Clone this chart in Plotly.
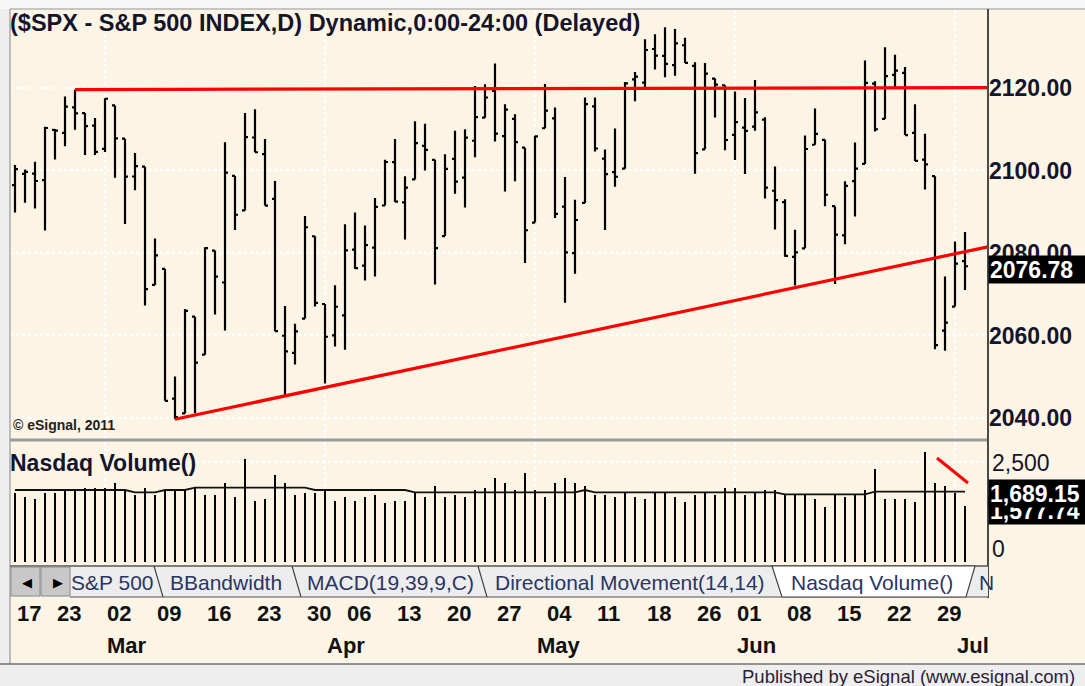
import plotly.graph_objects as go

W, H = 1085, 686
CREAM = "#FCF5E6"
FONT = "Liberation Sans, Arial, sans-serif"

# trading-day index 0 = 17 Feb 2015 ... 95 = 02 Jul 2015
day_idx = list(range(96))

opens = [
    2096.47, 2099.16, 2099.25, 2097.65, 2109.83, 2109.10, 2115.30, 2113.91, 2110.88, 2105.23,
    2115.76, 2107.72, 2098.54, 2100.91, 2072.25, 2076.14, 2044.69, 2041.10, 2064.56, 2055.35,
    2080.59, 2072.84, 2098.69, 2090.32, 2107.99, 2103.94, 2093.10, 2059.94, 2055.78, 2064.11,
    2084.05, 2067.63, 2060.03, 2064.87, 2080.79, 2076.94, 2081.29, 2091.51, 2102.03, 2092.28,
    2097.82, 2105.96, 2102.58, 2084.11, 2102.82, 2098.27, 2107.21, 2112.80, 2119.29, 2108.35,
    2112.49, 2105.52, 2087.38, 2110.23, 2112.63, 2091.26, 2079.96, 2092.13, 2115.56, 2102.87,
    2099.62, 2100.43, 2122.07, 2121.30, 2129.45, 2127.79, 2125.55, 2130.36, 2125.34, 2105.13,
    2122.27, 2120.66, 2108.64, 2110.41, 2110.64, 2112.35, 2095.09, 2092.34, 2079.07, 2081.12,
    2106.24, 2107.43, 2091.34, 2084.26, 2097.40, 2101.58, 2121.06, 2112.50, 2123.16, 2123.65,
    2109.10, 2102.62, 2098.63, 2061.19, 2067.00, 2078.03,
]
highs = [
    2101.30, 2100.23, 2102.13, 2110.61, 2110.05, 2117.94, 2119.59, 2113.91, 2112.74, 2117.52,
    2115.76, 2107.72, 2104.25, 2100.91, 2083.49, 2076.14, 2050.08, 2066.41, 2064.56, 2081.41,
    2080.59, 2106.85, 2098.69, 2113.92, 2114.86, 2107.63, 2097.43, 2067.15, 2062.83, 2088.97,
    2084.05, 2067.63, 2072.17, 2086.99, 2089.81, 2086.69, 2093.31, 2102.61, 2107.65, 2098.62,
    2111.91, 2111.30, 2102.58, 2103.94, 2109.64, 2109.98, 2120.49, 2120.92, 2125.92, 2116.04,
    2113.65, 2105.52, 2108.41, 2120.95, 2115.24, 2098.42, 2092.90, 2117.66, 2117.69, 2105.06,
    2110.19, 2121.45, 2123.89, 2131.78, 2133.02, 2134.72, 2134.28, 2132.15, 2126.22, 2126.06,
    2122.27, 2120.66, 2119.15, 2117.59, 2121.92, 2112.89, 2100.99, 2093.01, 2085.62, 2108.50,
    2115.02, 2107.43, 2091.34, 2097.40, 2106.79, 2126.65, 2121.64, 2129.87, 2128.03, 2125.10,
    2116.04, 2108.92, 2098.63, 2074.28, 2082.78, 2085.06,
]
lows = [
    2089.80, 2092.15, 2090.79, 2085.44, 2102.68, 2105.87, 2109.89, 2103.76, 2103.75, 2104.50,
    2098.26, 2087.00, 2095.22, 2067.27, 2072.21, 2044.16, 2039.69, 2041.10, 2041.17, 2055.35,
    2065.08, 2061.23, 2085.56, 2090.32, 2104.42, 2091.50, 2061.05, 2045.50, 2052.96, 2064.11,
    2067.04, 2048.38, 2057.32, 2056.52, 2076.10, 2073.30, 2074.29, 2091.51, 2092.33, 2083.24,
    2097.82, 2100.02, 2072.37, 2084.11, 2094.38, 2091.05, 2103.19, 2112.80, 2107.04, 2094.89,
    2097.41, 2077.59, 2087.38, 2110.23, 2088.46, 2067.93, 2074.99, 2092.13, 2104.58, 2085.57,
    2096.04, 2100.43, 2116.81, 2120.01, 2124.50, 2122.59, 2122.95, 2126.06, 2099.18, 2105.13,
    2112.86, 2104.89, 2102.54, 2099.14, 2109.61, 2093.23, 2085.67, 2079.11, 2072.14, 2081.12,
    2106.24, 2091.33, 2072.49, 2082.10, 2088.86, 2101.58, 2109.45, 2112.50, 2119.89, 2108.58,
    2102.31, 2095.38, 2056.64, 2056.32, 2067.00, 2071.02,
]
closes = [
    2100.34, 2099.68, 2097.45, 2110.30, 2109.66, 2115.48, 2113.86, 2110.74, 2104.50, 2117.39,
    2107.78, 2098.53, 2101.04, 2071.26, 2079.43, 2044.16, 2040.24, 2065.95, 2053.40, 2081.19,
    2074.28, 2099.50, 2089.27, 2108.10, 2104.42, 2091.50, 2061.05, 2056.15, 2061.02, 2086.24,
    2067.89, 2059.69, 2066.96, 2080.62, 2076.33, 2081.90, 2091.18, 2102.06, 2092.43, 2095.84,
    2106.63, 2104.99, 2081.18, 2100.40, 2097.29, 2107.96, 2112.93, 2117.69, 2108.92, 2114.76,
    2106.85, 2085.51, 2108.29, 2114.49, 2089.46, 2080.15, 2088.00, 2116.10, 2105.33, 2099.12,
    2098.48, 2121.10, 2122.73, 2129.20, 2127.83, 2125.85, 2130.82, 2126.06, 2104.20, 2123.48,
    2120.79, 2107.39, 2111.73, 2109.60, 2114.07, 2095.84, 2092.83, 2079.28, 2080.15, 2105.20,
    2108.86, 2094.11, 2084.43, 2096.29, 2100.44, 2121.24, 2109.99, 2122.85, 2124.20, 2108.58,
    2102.31, 2101.49, 2057.64, 2063.11, 2077.42, 2076.78,
]

volumes = [
    1717, 1617, 1567, 1717, 1717, 1783, 1783, 1858, 1858, 1858,
    1967, 1783, 1675, 1858, 1675, 1783, 1783, 1783, 1858, 1675,
    1675, 1967, 1617, 2567, 1525, 1567, 2175, 1967, 1675, 1717,
    1717, 1783, 1525, 1617, 1525, 1617, 1675, 1467, 1525, 1525,
    1717, 1617, 1908, 1617, 1675, 1617, 1800, 1858, 2108, 1967,
    1800, 2217, 1800, 1617, 1967, 2108, 1967, 1908, 1675, 1675,
    1617, 1733, 1617, 1567, 1733, 1733, 1617, 1508, 1675, 1733,
    1675, 1858, 1858, 1675, 1733, 1800, 1800, 1700, 1700, 1700,
    1567, 1367, 1700, 1617, 1700, 1800, 2317, 1567, 1567, 1567,
    1508, 2758, 1967, 1908, 1733, 1408,
]
volume_avg = [
    1800, 1800, 1800, 1800, 1800, 1800, 1800, 1800, 1800, 1800,
    1800, 1800, 1742, 1742, 1742, 1800, 1800, 1800, 1858, 1858,
    1858, 1858, 1858, 1858, 1858, 1858, 1858, 1858, 1858, 1858,
    1800, 1800, 1800, 1800, 1800, 1800, 1800, 1800, 1800, 1800,
    1742, 1742, 1742, 1742, 1742, 1742, 1742, 1742, 1742, 1742,
    1742, 1742, 1742, 1742, 1742, 1742, 1742, 1800, 1742, 1742,
    1742, 1742, 1742, 1742, 1742, 1742, 1742, 1742, 1742, 1742,
    1742, 1742, 1742, 1742, 1742, 1742, 1742, 1692, 1692, 1692,
    1692, 1692, 1692, 1692, 1692, 1692, 1758, 1758, 1758, 1758,
    1758, 1758, 1758, 1758, 1758, 1758,
]

# hand-drawn trendlines (index, value)
resist_x, resist_y = [6, 97.3], [2119.6, 2120.1]
support_x, support_y = [16, 97.3], [2039.69, 2081.5]
vol_trend_x, vol_trend_y = [92.2, 95.3], [2600, 1975]

price_ticks = [2040, 2060, 2080, 2100, 2120]
price_ticktext = ["2040.00", "2060.00", "2080.00", "2100.00", "2120.00"]
month_start_idx = [9, 31, 52, 72, 94]

date_labels = ["17", "23", "02", "09", "16", "23", "30", "06", "13", "20",
               "27", "04", "11", "18", "26", "01", "08", "15", "22", "29"]
date_idx = [0, 4, 9, 14, 19, 24, 29, 33, 38, 43, 48, 53, 58, 63, 68, 72, 77, 82, 87, 92]
month_labels = ["Mar", "Apr", "May", "Jun", "Jul"]
month_idx = [9, 31, 52, 72, 94]

tab_labels = ["S&P 500", "BBandwidth", "MACD(19,39,9,C)", "Directional Movement(14,14)",
              "Nasdaq Volume()", "N"]
tab_left_px = [69, 168, 305, 493, 789, 977]


def fx(px):
    return px / W


def fy(py):
    return 1 - py / H


fig = go.Figure()

fig.add_trace(go.Ohlc(
    x=day_idx, open=opens, high=highs, low=lows, close=closes,
    increasing=dict(line=dict(color="black", width=2.2)),
    decreasing=dict(line=dict(color="black", width=2.2)),
    tickwidth=0.3, hoverinfo="skip", showlegend=False,
    xaxis="x", yaxis="y",
))
for xs, ys in [(resist_x, resist_y), (support_x, support_y)]:
    fig.add_trace(go.Scatter(x=xs, y=ys, mode="lines", line=dict(color="#FF0000", width=3.2),
                             hoverinfo="skip", showlegend=False, xaxis="x", yaxis="y"))

fig.add_trace(go.Bar(x=day_idx, y=volumes, width=0.2, marker=dict(color="black", line=dict(width=0)),
                     hoverinfo="skip", showlegend=False, xaxis="x2", yaxis="y2"))
fig.add_trace(go.Scatter(x=day_idx, y=volume_avg, mode="lines", line=dict(color="#111111", width=1.8),
                         hoverinfo="skip", showlegend=False, xaxis="x2", yaxis="y2"))
fig.add_trace(go.Scatter(x=vol_trend_x, y=vol_trend_y, mode="lines", line=dict(color="#FF0000", width=3),
                         hoverinfo="skip", showlegend=False, xaxis="x2", yaxis="y2"))

x_range = [-0.5, 97.3]
x_dom = [fx(10), fx(988)]
grid = dict(showgrid=True, gridcolor="#FFFFFF", gridwidth=1.5, griddash="dot", zeroline=False)


def hline(y, x0, x1, color, width):
    return dict(type="line", xref="paper", yref="paper", x0=fx(x0), x1=fx(x1), y0=fy(y), y1=fy(y),
                line=dict(color=color, width=width))


def vline(x, y0, y1, color, width):
    return dict(type="line", xref="paper", yref="paper", x0=fx(x), x1=fx(x), y0=fy(y0), y1=fy(y1),
                line=dict(color=color, width=width))


def rect(x0, y0, x1, y1, fill, line_color=None, layer="above"):
    return dict(type="rect", xref="paper", yref="paper", x0=fx(x0), x1=fx(x1), y0=fy(y1), y1=fy(y0),
                fillcolor=fill, layer=layer,
                line=dict(color=line_color or fill, width=1 if line_color else 0))


shapes = [
    rect(0, 0, W, 9, "#F7F7F7", layer="below"),
    rect(10, 9, W, 664, CREAM, layer="below"),
    vline(10, 9, 664, "#A9A9A9", 1.5),
    hline(9, 10, W, "#B5B5B5", 1.5),
    hline(664, 0, W, "#707070", 1.5),
    hline(440, 10, 988, "#9B9B9B", 3),
    vline(988, 9, 598, "#4A4A4A", 2),
    # tab strip
    rect(11, 566, 988, 597, "#EDEDED"),
    hline(566, 10, 988, "#555555", 1.5),
    hline(597, 70, 988, "#555555", 1.2),
    rect(11, 567, 40, 596, "#C8C8C8", "#8A8A8A"),
    rect(41, 567, 70, 596, "#C8C8C8", "#8A8A8A"),
    dict(type="path", xref="paper", yref="paper",
         path=(f"M {fx(772)},{fy(566)} L {fx(782)},{fy(597)} L {fx(966)},{fy(597)} "
               f"L {fx(975)},{fy(566)} Z"),
         fillcolor="#FFFFFF", line=dict(color="#444444", width=1.2)),
]
for sx in [154, 292, 478]:
    shapes.append(dict(type="line", xref="paper", yref="paper", x0=fx(sx), x1=fx(sx + 9),
                       y0=fy(566), y1=fy(597), line=dict(color="#444444", width=1.2)))

annotations = [
    dict(text="($SPX - S&P 500 INDEX,D) Dynamic,0:00-24:00 (Delayed)", x=fx(8), y=fy(23),
         font=dict(size=23.5, color="#14142B", family=FONT, weight="bold")),
    dict(text="© eSignal, 2011", x=fx(11), y=fy(425),
         font=dict(size=14, color="#222222", family=FONT, weight="bold")),
    dict(text="Nasdaq Volume()", x=fx(8), y=fy(463),
         font=dict(size=23, color="#14142B", family=FONT, weight="bold")),
    dict(text="2,500", x=fx(990), y=fy(463), font=dict(size=23, color="#14142B", family=FONT)),
    dict(text="0", x=fx(990), y=fy(549), font=dict(size=23, color="#14142B", family=FONT)),
    dict(text="2076.78", x=fx(988), y=fy(269), bgcolor="#000000", width=95, height=25, align="left",
         font=dict(size=23, color="#FFFFFF", family=FONT, weight="bold")),
    dict(text="1,577.74", x=fx(988), y=fy(510), bgcolor="#000000", width=97, height=25, align="left",
         font=dict(size=23, color="#FFFFFF", family=FONT, weight="bold")),
    dict(text="1,689.15", x=fx(988), y=fy(493), bgcolor="#000000", width=97, height=25, align="left",
         font=dict(size=23, color="#FFFFFF", family=FONT, weight="bold")),
    dict(text="◀", x=fx(20), y=fy(582), font=dict(size=13, color="#000000", family="DejaVu Sans")),
    dict(text="▶", x=fx(51), y=fy(582), font=dict(size=13, color="#000000", family="DejaVu Sans")),
    dict(text="Published by eSignal (www.esignal.com)", x=fx(1077), y=fy(676), xanchor="right",
         font=dict(size=18.5, color="#2A2233", family=FONT)),
]
for label, left in zip(tab_labels, tab_left_px):
    annotations.append(dict(text=label, x=fx(left), y=fy(582),
                            font=dict(size=21, color="#2B3564", family=FONT)))
for a in annotations:
    a.setdefault("xref", "paper")
    a.setdefault("yref", "paper")
    a.setdefault("xanchor", "left")
    a.setdefault("yanchor", "middle")
    a["showarrow"] = False

for label, i in zip(date_labels, date_idx):
    annotations.append(dict(text=label, x=i, y=fy(613), xref="x2", yref="paper", xanchor="left",
                            yanchor="middle", showarrow=False,
                            font=dict(size=22, color="#111111", family=FONT, weight="bold")))
for label, i in zip(month_labels, month_idx):
    annotations.append(dict(text=label, x=i, y=fy(645), xref="x2", yref="paper", xanchor="left",
                            yanchor="middle", showarrow=False,
                            font=dict(size=22, color="#111111", family=FONT, weight="bold")))

fig.update_layout(
    width=W, height=H,
    margin=dict(l=0, r=0, t=0, b=0),
    paper_bgcolor="#EEEEEE",
    plot_bgcolor="rgba(0,0,0,0)",
    hovermode=False,
    showlegend=False,
    xaxis=dict(domain=x_dom, range=x_range, anchor="y", tickvals=month_start_idx,
               showticklabels=False, ticks="", rangeslider=dict(visible=False), fixedrange=True, **grid),
    yaxis=dict(domain=[fy(438), fy(10)], range=[2035.15, 2138.9], anchor="x", side="right",
               tickvals=price_ticks, ticktext=price_ticktext, ticks="",
               tickfont=dict(size=23, color="#14142B", family=FONT, weight="bold"),
               fixedrange=True, **grid),
    xaxis2=dict(domain=x_dom, range=x_range, anchor="y2", tickvals=month_start_idx,
                showticklabels=False, ticks="", fixedrange=True, **grid),
    yaxis2=dict(domain=[fy(562), fy(442)], range=[0, 3000], anchor="x2", side="right",
                tickvals=[2500], showticklabels=False, ticks="", fixedrange=True, **grid),
    bargap=0,
    shapes=shapes,
    annotations=annotations,
)

# the page's default 8px body margin would push the fixed-size figure off the window
fig.write_html("out.html", config={"displayModeBar": False},
               post_script="document.body.style.margin='0';document.body.style.overflow='hidden';")
